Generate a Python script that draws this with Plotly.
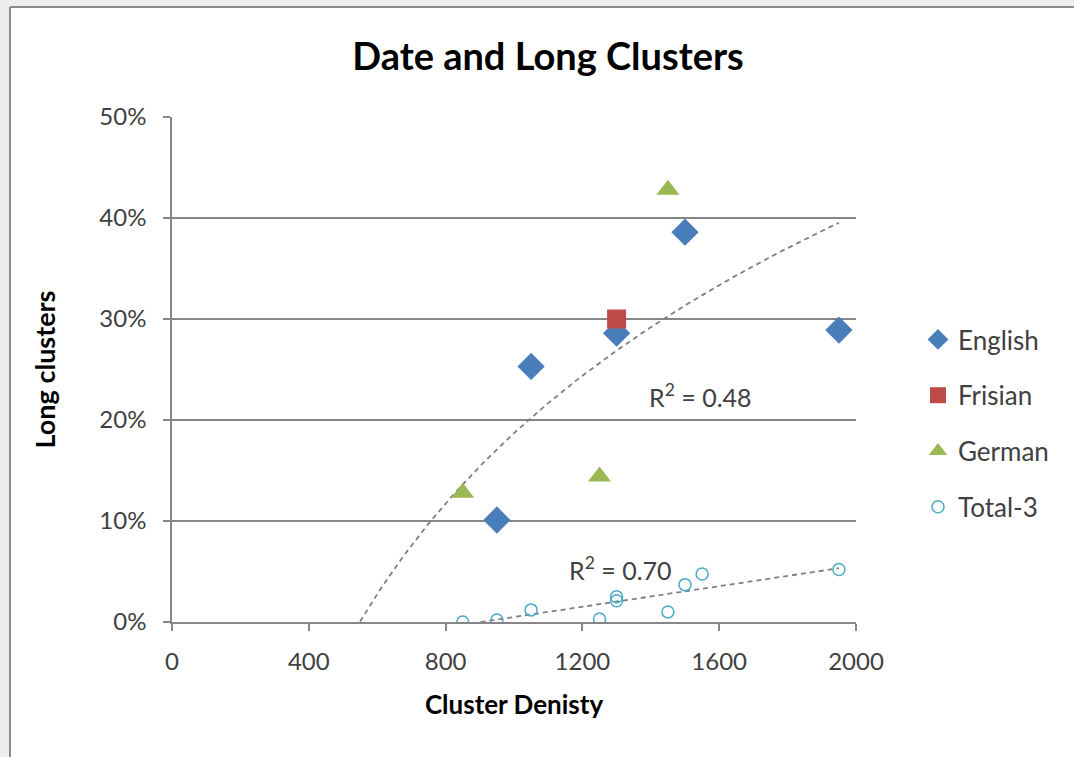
import numpy as np
import plotly.graph_objects as go

# Series values
english_x = [1050, 950, 1300, 1500, 1950]
english_y = [0.253, 0.101, 0.286, 0.386, 0.289]
frisian_x = [1300]
frisian_y = [0.300]
german_x = [850, 1250, 1450]
german_y = [0.128, 0.144, 0.428]
total3_x = [850, 950, 1050, 1250, 1300, 1300, 1450, 1500, 1550, 1950]
total3_y = [0.000, 0.002, 0.012, 0.003, 0.025, 0.021, 0.010, 0.037, 0.0475, 0.052]

x_ticks = [0, 400, 800, 1200, 1600, 2000]
y_ticks = [0, 0.1, 0.2, 0.3, 0.4, 0.5]
r2_upper = "R<sup>2</sup> = 0.48"
r2_lower = "R<sup>2</sup> = 0.70"

FONT = "Lato"
TXT = "#404040"
GRID = "#868686"

# Logarithmic trend over all language points, extended 300 units backward
lang_x = np.array(english_x + frisian_x + german_x, dtype=float)
lang_y = np.array(english_y + frisian_y + german_y, dtype=float)
a, b = np.polyfit(np.log(lang_x), lang_y, 1)
log_xs = np.linspace(lang_x.min() - 300, lang_x.max(), 150)
log_ys = a * np.log(log_xs) + b

# Linear trend over Total-3
tx = np.array(total3_x, dtype=float)
ty = np.array(total3_y, dtype=float)
m, c = np.polyfit(tx, ty, 1)
lin_xs = np.linspace(tx.min(), tx.max(), 50)
lin_ys = m * lin_xs + c

fig = go.Figure()

trend_line = dict(color="#7f7f7f", width=1.8, dash="5px,4px")
fig.add_trace(go.Scatter(x=log_xs, y=log_ys, mode="lines", line=trend_line,
                         showlegend=False, hoverinfo="skip"))
fig.add_trace(go.Scatter(x=lin_xs, y=lin_ys, mode="lines", line=trend_line,
                         showlegend=False, hoverinfo="skip"))

fig.add_trace(go.Scatter(x=english_x, y=english_y, mode="markers", name="English",
                         legendgroup="a",
                         marker=dict(symbol="diamond", size=21, color="#4a7ebb")))
fig.add_trace(go.Scatter(x=frisian_x, y=frisian_y, mode="markers", name="Frisian",
                         legendgroup="b",
                         marker=dict(symbol="square", size=19, color="#be4b48")))
fig.add_trace(go.Scatter(x=german_x, y=german_y, mode="markers", name="German",
                         legendgroup="c",
                         marker=dict(symbol="triangle-up", size=20, color="#98b954")))
fig.add_trace(go.Scatter(x=total3_x, y=total3_y, mode="markers", name="Total-3",
                         legendgroup="d",
                         marker=dict(symbol="circle-open", size=12, color="#4bacc6",
                                     line=dict(width=1.5, color="#4bacc6"))))

fig.add_annotation(x=1545, y=0.224, text=r2_upper, showarrow=False,
                   font=dict(family=FONT, size=25, color=TXT))
fig.add_annotation(x=1310, y=0.053, text=r2_lower, showarrow=False,
                   font=dict(family=FONT, size=25, color=TXT))

# Chart frame on grey surround: white area with top and left border lines
fx0 = (10 - 172) / 684
fx1 = (1074 - 172) / 684
fy0 = -135 / 505
fy1 = (622 - 7) / 505
fig.add_shape(type="rect", xref="paper", yref="paper",
              x0=fx0, x1=fx1, y0=fy0, y1=fy1,
              fillcolor="white", line=dict(width=0), layer="below")
fig.add_shape(type="line", xref="paper", yref="paper",
              x0=fx0, x1=fx1, y0=fy1, y1=fy1,
              line=dict(color="#8c8c8c", width=2), layer="below")
fig.add_shape(type="line", xref="paper", yref="paper",
              x0=fx0, x1=fx0, y0=fy0, y1=fy1,
              line=dict(color="#8c8c8c", width=2), layer="below")

fig.update_layout(
    width=1074, height=757,
    margin=dict(l=172, r=218, t=117, b=135),
    paper_bgcolor="#eeeeee",
    plot_bgcolor="rgba(0,0,0,0)",
    font=dict(family=FONT, color=TXT),
    title=dict(text="<b>Date and Long Clusters</b>", x=548 / 1074,
               xanchor="center", y=1 - 57 / 757, yanchor="middle",
               font=dict(family=FONT, size=38, color="#000000")),
    xaxis=dict(range=[0, 2000], tickvals=x_ticks, showgrid=False,
               showline=True, linecolor=GRID, linewidth=1.5,
               ticks="outside", ticklen=7, tickcolor=GRID, tickwidth=1.5,
               ticklabelstandoff=10,
               tickfont=dict(family=FONT, size=24, color=TXT),
               zeroline=False,
               title=dict(text="<b>Cluster Denisty</b>", standoff=22,
                          font=dict(family=FONT, size=26, color="#000000"))),
    yaxis=dict(range=[0, 0.5], tickvals=y_ticks, tickformat=".0%",
               showgrid=True, gridcolor=GRID, gridwidth=1.5,
               showline=True, linecolor=GRID, linewidth=1.5,
               ticks="outside", ticklen=7, tickcolor=GRID, tickwidth=1.5,
               ticklabelstandoff=12,
               tickfont=dict(family=FONT, size=24, color=TXT),
               zeroline=False,
               title=dict(text="<b>Long clusters</b>", standoff=36,
                          font=dict(family=FONT, size=27, color="#000000"))),
    legend=dict(x=(918 - 172) / 684, xanchor="left", y=(622 - 316) / 505, yanchor="top",
                font=dict(family=FONT, size=26, color=TXT),
                tracegroupgap=19, bgcolor="rgba(0,0,0,0)"),
)

fig.write_html("out.html")
